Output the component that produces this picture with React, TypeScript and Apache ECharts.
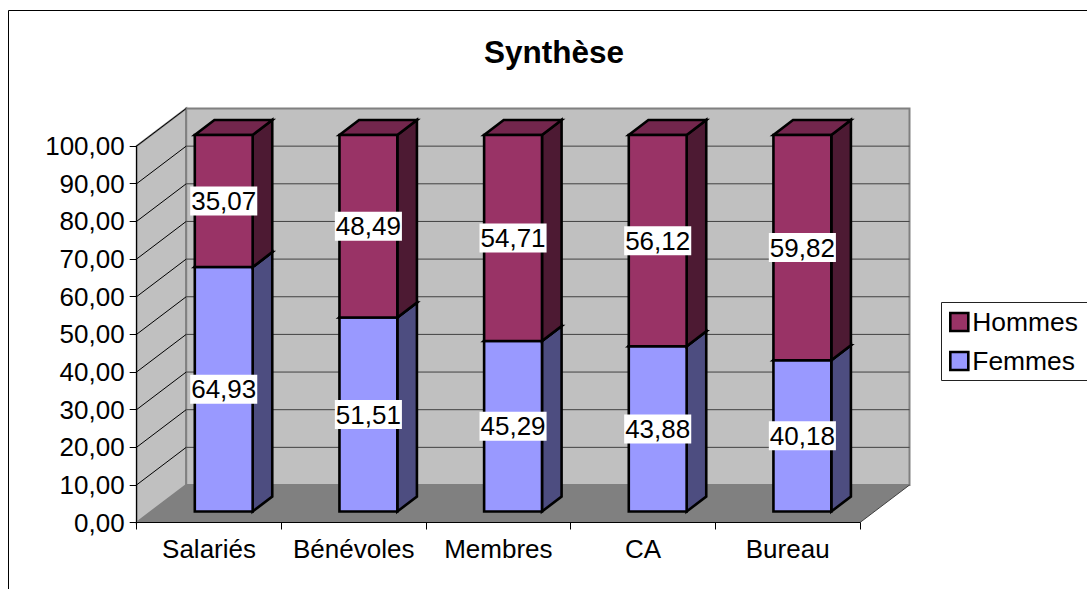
import React, { useEffect, useRef } from "react";
import * as echarts from "echarts";

const categories = ["Salariés", "Bénévoles", "Membres", "CA", "Bureau"];
const femmes = [64.93, 51.51, 45.29, 43.88, 40.18];
const hommes = [35.07, 48.49, 54.71, 56.12, 59.82];
const yTicks = [10, 20, 30, 40, 50, 60, 70, 80, 90, 100];
const FONT = '"Liberation Sans", Arial, sans-serif';

const WALL_DX = 49.5;
const WALL_DY = -37.5;
const BAR_DX = 14.7;
const BAR_DY = -11;
const SIDE_DX = 19.6;
const SIDE_DY = -15;
const BAR_RATIO = 0.4;

const fmt = (v: number) => v.toFixed(2).replace(".", ",");

function barRender(front: string, side: string, top: string) {
  return (_p: any, api: any) => {
    const idx = api.value(0);
    const start = api.value(1);
    const end = api.value(2);
    const a = api.coord([idx, start]);
    const b = api.coord([idx, end]);
    const w = api.size([1, 0])[0] * BAR_RATIO;
    const l = a[0] - w / 2 + BAR_DX;
    const r = a[0] + w / 2 + BAR_DX;
    const y0 = a[1] + BAR_DY;
    const y1 = b[1] + BAR_DY;
    const stroke = { stroke: "#000", lineWidth: 2.6, lineJoin: "miter" };
    return {
      type: "group",
      children: [
        {
          type: "polygon",
          shape: { points: [[r, y0], [r + SIDE_DX, y0 + SIDE_DY], [r + SIDE_DX, y1 + SIDE_DY], [r, y1]] },
          style: { fill: side, ...stroke },
        },
        {
          type: "polygon",
          shape: { points: [[l, y1], [r, y1], [r + SIDE_DX, y1 + SIDE_DY], [l + SIDE_DX, y1 + SIDE_DY]] },
          style: { fill: top, ...stroke },
        },
        {
          type: "rect",
          shape: { x: l, y: y1, width: w, height: y0 - y1 },
          style: { fill: front, ...stroke },
        },
        {
          type: "text",
          style: {
            text: fmt(end - start),
            x: (l + r) / 2,
            y: (y0 + y1) / 2,
            align: "center",
            verticalAlign: "middle",
            font: `26px ${FONT}`,
            fill: "#000",
            backgroundColor: "#fff",
            padding: [2, 1, 1, 1],
          },
        },
      ],
    };
  };
}

export default function App() {
  const ref = useRef<HTMLDivElement>(null);
  useEffect(() => {
    const chart = echarts.init(ref.current!, null, { renderer: "svg" });
    const femmesRows = femmes.map((v, i) => [i, 0, v]);
    const hommesRows = hommes.map((v, i) => [i, femmes[i], femmes[i] + v]);
    chart.setOption({
      animation: false,
      backgroundColor: "#fff",
      textStyle: { fontFamily: FONT },
      title: {
        text: "Synthèse",
        left: 549,
        top: 31,
        textAlign: "center",
        textStyle: { fontFamily: FONT, fontSize: 31.5, fontWeight: "bold", color: "#000" },
      },
      grid: { left: 136.7, top: 146, width: 723.3, height: 376.5 },
      legend: {
        left: 941,
        top: 302,
        orient: "vertical",
        padding: [5, 0, 0, 8],
        itemWidth: 18,
        itemHeight: 18,
        itemGap: 9,
        data: ["Hommes", "Femmes"],
        icon: "rect",
        z: 10,
        selectedMode: false,
        textStyle: { fontFamily: FONT, fontSize: 26.4, color: "#000", padding: [0, 0, 0, -1], lineHeight: 30 },
        itemStyle: { borderColor: "#000", borderWidth: 2.6 },
      },
      xAxis: {
        type: "category",
        data: categories,
        z: 3,
        axisLine: { lineStyle: { color: "#000", width: 1 } },
        axisTick: { show: true, interval: 0, alignWithLabel: false, length: 7, lineStyle: { color: "#000" } },
        axisLabel: { interval: 0, fontFamily: FONT, fontSize: 26, color: "#000", margin: 13 },
      },
      yAxis: {
        type: "value",
        min: 0,
        max: 100,
        interval: 10,
        z: 3,
        splitLine: { show: false },
        axisLine: { show: true, lineStyle: { color: "#000", width: 1 } },
        axisTick: { show: true, length: 7, lineStyle: { color: "#000" } },
        axisLabel: { fontFamily: FONT, fontSize: 26, color: "#000", margin: 12, formatter: (v: number) => fmt(v) },
      },
      graphic: [
        {
          type: "rect",
          z: -1,
          shape: { x: 8.5, y: 10.5, width: 1200, height: 700 },
          style: { fill: "#fff", stroke: "#000", lineWidth: 1 },
        },
        {
          type: "rect",
          z: 1,
          shape: { x: 941.5, y: 302.5, width: 300, height: 78 },
          style: { fill: "#fff", stroke: "#222", lineWidth: 1 },
        },
      ],
      series: [
        {
          type: "custom",
          name: "walls",
          z: 1,
          silent: true,
          data: [[0, 0]],
          encode: { x: 0, y: 1 },
          renderItem: (p: any) => {
            const c = p.coordSys;
            const L = c.x;
            const R = c.x + c.width;
            const T = c.y;
            const B = c.y + c.height;
            const edge = { stroke: "#808080", lineWidth: 2, lineJoin: "miter" };
            return {
              type: "group",
              children: [
                {
                  type: "polygon",
                  shape: { points: [[L, T], [L + WALL_DX, T + WALL_DY], [L + WALL_DX, B + WALL_DY], [L, B]] },
                  style: { fill: "#C0C0C0", ...edge },
                },
                {
                  type: "rect",
                  shape: { x: L + WALL_DX, y: T + WALL_DY, width: c.width, height: c.height },
                  style: { fill: "#C0C0C0", ...edge },
                },
                {
                  type: "polygon",
                  shape: { points: [[L, B], [R, B], [R + WALL_DX, B + WALL_DY], [L + WALL_DX, B + WALL_DY]] },
                  style: { fill: "#808080" },
                },
                {
                  type: "line",
                  shape: { x1: R, y1: B, x2: R + WALL_DX, y2: B + WALL_DY },
                  style: { stroke: "#404040", lineWidth: 1 },
                },
              ],
            };
          },
        },
        {
          type: "custom",
          name: "grid",
          z: 2,
          silent: true,
          data: yTicks.map((t) => [0, t]),
          encode: { x: 0, y: 1 },
          renderItem: (p: any, api: any) => {
            const c = p.coordSys;
            const y = api.coord([0, api.value(1)])[1];
            const L = c.x;
            const R = c.x + c.width;
            const children: any[] = [
              {
                type: "line",
                shape: { x1: L, y1: y, x2: L + WALL_DX, y2: y + WALL_DY },
                style: { stroke: "#000", lineWidth: 1 },
              },
            ];
            if (api.value(1) < 100) {
              children.push({
                type: "line",
                shape: { x1: L + WALL_DX, y1: y + WALL_DY, x2: R + WALL_DX, y2: y + WALL_DY },
                style: { stroke: "#404040", lineWidth: 1 },
              });
            }
            return { type: "group", children };
          },
        },
        {
          type: "custom",
          name: "Femmes",
          z: 4,
          silent: true,
          itemStyle: { color: "#9999FF" },
          data: femmesRows,
          encode: { x: 0, y: [1, 2] },
          renderItem: barRender("#9999FF", "#4D4D80", "#7373BF"),
        },
        {
          type: "custom",
          name: "Hommes",
          z: 5,
          silent: true,
          itemStyle: { color: "#993366" },
          data: hommesRows,
          encode: { x: 0, y: [1, 2] },
          renderItem: barRender("#993366", "#4D1A33", "#73264D"),
        },
      ],
    });
    return () => chart.dispose();
  }, []);
  return <div ref={ref} style={{ position: "fixed", left: 0, top: 0, width: 1087, height: 589 }} />;
}
